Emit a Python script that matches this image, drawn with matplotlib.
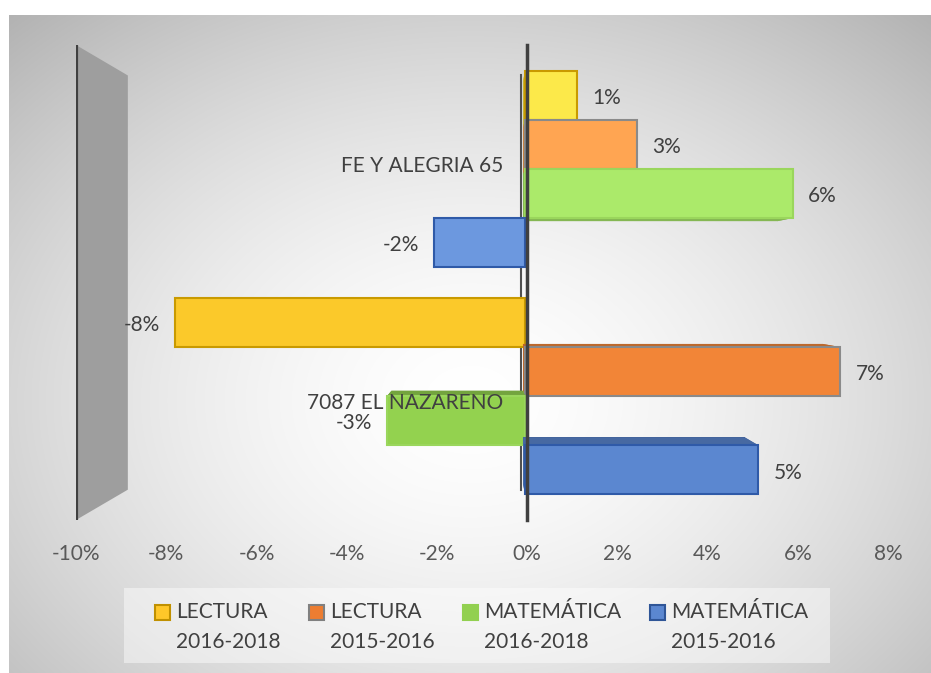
import numpy as np
import matplotlib
matplotlib.use("Agg")
import matplotlib.pyplot as plt
from matplotlib.patches import Polygon, Rectangle
from matplotlib.lines import Line2D
from matplotlib.transforms import IdentityTransform
from matplotlib.colors import to_rgb

plt.rcParams['font.family'] = ['Lato', 'DejaVu Sans']

# datos
escuelas = ["FE Y ALEGRIA 65", "7087 EL NAZARENO"]
series = ["LECTURA\n2016-2018", "LECTURA\n2015-2016",
          "MATEMÁTICA\n2016-2018", "MATEMÁTICA\n2015-2016"]
lectura_16_18 = [1.2, -8.1]
lectura_15_16 = [2.6, 7.3]
mate_16_18 = [6.2, -3.2]
mate_15_16 = [-2.1, 5.4]
valores = [lectura_16_18, lectura_15_16, mate_16_18, mate_15_16]
xticks = [-10, -8, -6, -4, -2, 0, 2, 4, 6, 8]

# estilos
cara = [["#FCE94A", "#FBC92A"], ["#FFA552", "#F28537"],
        ["#ABEA6A", "#93D24F"], ["#6C98DF", "#5B87D0"]]
borde = ["#C99A00", "#8A8A8A", "#9AD65C", "#2F5AA8"]
leg_color = ["#FFC729", "#ED7D31", "#92D050", "#5B87D0"]
leg_borde = ["#C09000", "#808080", "#92D050", "#2F5597"]
texto = "#404040"
fs = 15

W, H = 931, 673
fig = plt.figure(figsize=(W / 100, H / 100), dpi=100)

# fondo con degradado radial
bg = fig.add_axes([0, 0, 1, 1], zorder=-10)
yy, xx = np.mgrid[0:H, 0:W]
r = np.sqrt(((xx - 470) / 560.0) ** 2 + ((yy - 400) / 430.0) ** 2)
g = 1 - 0.22 * np.clip(r, 0, 1.4) ** 1.6
img = np.dstack([g, g, g])
img[:15, :] = 1
img[:, :9] = 1
bg.imshow(img, extent=[0, W, H, 0], aspect='auto', interpolation='bilinear')
bg.set_xlim(0, W)
bg.set_ylim(H, 0)
bg.set_axis_off()

ax = fig.add_axes([76 / W, (H - 520) / H, (888 - 76) / W, 475 / H])
ax.patch.set_visible(False)
ax.set_xlim(-10, 8)
ax.set_ylim(1.5, -0.5)
for s in ['top', 'right', 'bottom']:
    ax.spines[s].set_visible(False)
ax.spines['left'].set_position(('data', 0))
ax.spines['left'].set_color(texto)
ax.spines['left'].set_linewidth(2.5)
ax.spines['left'].set_zorder(5)
ax.set_axisbelow(False)
ax.set_yticks([0, 1])
ax.set_yticklabels(escuelas, fontsize=fs, color=texto)
ax.set_xticks(xticks)
ax.set_xticklabels([f"{t}%" for t in xticks], fontsize=fs, color="#595959")
ax.tick_params(axis='y', length=0, pad=17)
ax.tick_params(axis='x', length=0, pad=17)
ax.yaxis.set_zorder(6)

# perspectiva
vp = np.array([481.0, H - 283.0])
s_frente, s_fondo, s_pared = 0.957, 0.91, 0.872


def proj(x, y, s):
    p = ax.transData.transform((x, y))
    return vp + (p - vp) * s


def poly(pts, fc, ec='none', lw=0, z=1):
    p = Polygon(pts, closed=True, facecolor=fc, edgecolor=ec, linewidth=lw,
                transform=IdentityTransform(), zorder=z, clip_on=False)
    ax.add_artist(p)


# pared lateral
y_top, y_bot = -0.5, 1.5
pf1, pf2 = proj(-10, y_top, 1), proj(-10, y_bot, 1)
pb1, pb2 = proj(-10, y_top, s_pared), proj(-10, y_bot, s_pared)
poly([pf1, pb1, pb2, pf2], "#9E9E9E", z=0.5)
ax.add_line(Line2D([pf1[0], pf2[0]], [pf1[1], pf2[1]], color=texto, lw=3,
                   transform=IdentityTransform(), zorder=0.6, solid_capstyle='round'))
a1, a2 = proj(0, y_top, s_pared), proj(0, y_bot, s_pared)
ax.add_line(Line2D([a1[0], a2[0]], [a1[1], a2[1]], color="#505050", lw=1.5,
                   transform=IdentityTransform(), zorder=0.6))

# barras
alto = 0.216
for gi in range(len(escuelas)):
    for si in range(len(series)):
        v = valores[si][gi]
        y0 = gi - 2 * alto + si * alto
        y1 = y0 + alto
        esq = [(0, y0), (v, y0), (v, y1), (0, y1)]
        fr = [proj(x, y, s_frente) for x, y in esq]
        bk = [proj(x, y, s_fondo) for x, y in esq]
        c = np.array(to_rgb(cara[si][gi]))
        z = 1 + 0.01 * (gi * 4 + si)
        poly(bk, c * 0.7, z=z)
        for k in range(4):
            poly([fr[k], fr[(k + 1) % 4], bk[(k + 1) % 4], bk[k]], c * 0.78, z=z)
        poly(fr, c, borde[si], 1.5, z=z + 0.005)
        ym = (y0 + y1) / 2
        pe = proj(v, ym, s_frente)
        lado = 1 if v >= 0 else -1
        ax.annotate(f"{round(v)}%", xy=(pe[0], pe[1]), xycoords='figure pixels',
                    xytext=(11 * lado, -2), textcoords='offset points',
                    ha='left' if lado > 0 else 'right', va='center',
                    fontsize=fs, color=texto, zorder=7)

# leyenda
fig.add_artist(Rectangle((124, H - 663), 706, 75, transform=IdentityTransform(),
                         facecolor='white', alpha=0.45, edgecolor='none'))
cuadro_x = [155, 309, 463, 650]
for si, nombre in enumerate(series):
    l1, l2 = nombre.split("\n")
    fig.add_artist(Rectangle((cuadro_x[si], H - 620), 15, 15,
                             transform=IdentityTransform(), facecolor=leg_color[si],
                             edgecolor=leg_borde[si], linewidth=1.5))
    fig.text((cuadro_x[si] + 21) / W, (H - 612) / H, l1, fontsize=fs,
             color=texto, va='center', ha='left')
    fig.text((cuadro_x[si] + 21) / W, (H - 642) / H, l2, fontsize=fs,
             color=texto, va='center', ha='left')

fig.savefig("out.png", dpi=100)
